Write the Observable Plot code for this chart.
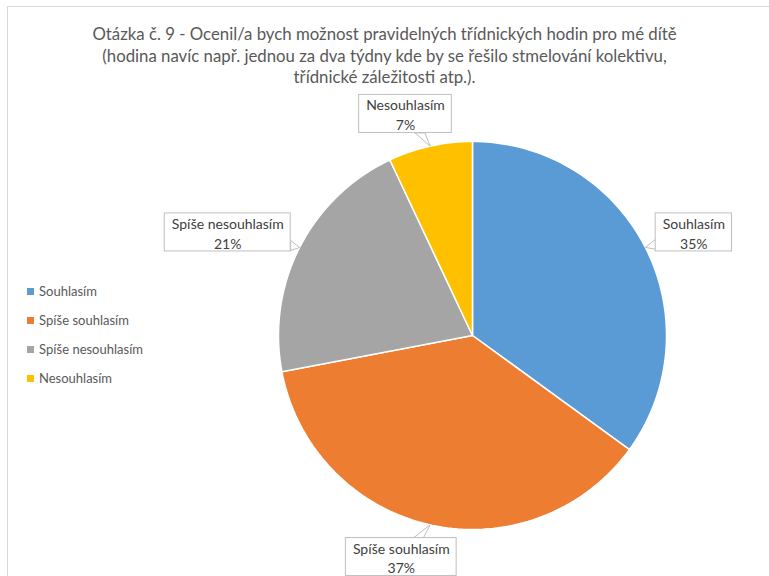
<!DOCTYPE html>
<html>
<head>
<meta charset="utf-8">
<script src="https://cdn.jsdelivr.net/npm/d3@7"></script>
<script src="https://cdn.jsdelivr.net/npm/@observablehq/plot@0.6"></script>
<style>
  html, body { margin: 0; padding: 0; background: #fff; overflow: hidden; width: 769px; height: 576px; }
  #wrap { position: relative; width: 769px; height: 576px; }
  #border { position: absolute; left: 7px; top: 6px; width: 800px; height: 620px; border: 1px solid #d9d9d9; box-sizing: border-box; pointer-events: none; }
  #title { position: absolute; left: 0; top: 23px; width: 769px; text-align: center; font-family: Lato, sans-serif; font-size: 16.8px; line-height: 21.5px; color: #595959; }
  #legend { position: absolute; left: 27px; top: 276.5px; font-family: Lato, sans-serif; font-size: 13px; color: #595959; }
  #legend .row { height: 29px; display: flex; align-items: center; }
  #legend .sw { width: 7px; height: 7px; margin-right: 5px; }
  #chart { position: absolute; left: 0; top: 0; }
</style>
</head>
<body>
<div id="wrap">
  <div id="chart"></div>
  <div id="title"></div>
  <div id="legend"></div>
  <div id="border"></div>
</div>
<script>
// ---- data ----
const categories = ["Souhlasím", "Spíše souhlasím", "Spíše nesouhlasím", "Nesouhlasím"];
const percents = [35, 37, 21, 7];
const colors = ["#5B9BD5", "#ED7D31", "#A5A5A5", "#FFC000"];
const titleLines = [
  "Otázka č. 9 - Ocenil/a bych možnost pravidelných třídnických hodin pro mé dítě",
  "(hodina navíc např. jednou za dva týdny kde by se řešilo stmelování kolektivu,",
  "třídnické záležitosti atp.)."
];

// ---- layout ----
const W = 769, H = 576;
const ml = 278, mr = 103, mt = 141, mb = 47;
const R = (W - ml - mr) / 2; // pixels per unit
const labelFont = 14;
const fontFamily = "Lato";

// title & legend
document.getElementById("title").innerHTML = titleLines.map(t => `<div>${t}</div>`).join("");
document.getElementById("legend").innerHTML = categories.map((c, i) =>
  `<div class="row"><div class="sw" style="background:${colors[i]}"></div><div>${c}</div></div>`).join("");

// pie geometry from data
const data = categories.map((c, i) => ({key: c, value: percents[i]}));
const arcs = d3.pie().sort(null).value(d => d.value).startAngle(0).endAngle(2 * Math.PI)(data);
const slicePts = [];
for (const a of arcs) {
  const n = Math.max(4, Math.ceil((a.endAngle - a.startAngle) / (2 * Math.PI) * 240));
  slicePts.push({key: a.data.key, x: 0, y: 0});
  for (let i = 0; i <= n; i++) {
    const t = a.startAngle + (a.endAngle - a.startAngle) * i / n;
    slicePts.push({key: a.data.key, x: Math.sin(t), y: Math.cos(t)});
  }
  slicePts.push({key: a.data.key, x: 0, y: 0});
}

// label boxes
const ctx = document.createElement("canvas").getContext("2d");
ctx.font = `${labelFont}px ${fontFamily}`;
const gap = 14 / R, hh = 19 / R, baseHalf = 5 / R;
const labels = arcs.map(a => {
  const th = (a.startAngle + a.endAngle) / 2;
  const s = Math.sin(th), c = Math.cos(th);
  const tw = Math.max(ctx.measureText(a.data.key).width, ctx.measureText(a.data.value + "%").width);
  const hw = (tw + 14) / 2 / R;
  const cx = (1 + gap) * s + hw * Math.sign(s) * Math.sqrt(Math.abs(s));
  const cy = (1 + gap) * c + hh * c;
  return {key: a.data.key, pct: a.data.value, th, cx, cy, hw, s, c};
});
// callout pointers
const pointerPts = [];
for (const L of labels) {
  const tx = 1.0 * L.s, ty = 1.0 * L.c;
  const dx = tx - L.cx, dy = ty - L.cy;
  const tX = Math.abs(dx) > 1e-9 ? L.hw / Math.abs(dx) : Infinity;
  const tY = Math.abs(dy) > 1e-9 ? hh / Math.abs(dy) : Infinity;
  const t = Math.min(tX, tY);
  const ex = L.cx + dx * t, ey = L.cy + dy * t;
  let p1, p2;
  if (tX < tY) { p1 = [ex, ey - baseHalf]; p2 = [ex, ey + baseHalf]; }
  else { p1 = [ex - baseHalf, ey]; p2 = [ex + baseHalf, ey]; }
  pointerPts.push({key: L.key, x: p1[0], y: p1[1]}, {key: L.key, x: tx, y: ty}, {key: L.key, x: p2[0], y: p2[1]}, {key: L.key, x: p1[0], y: p1[1]});
}

const chart = Plot.plot({
  width: W, height: H,
  marginLeft: ml, marginRight: mr, marginTop: mt, marginBottom: mb,
  style: {background: "transparent", overflow: "visible", fontFamily: fontFamily},
  x: {domain: [-1, 1], axis: null},
  y: {domain: [-1, 1], axis: null},
  color: {domain: categories, range: colors},
  marks: [
    Plot.line(slicePts, {x: "x", y: "y", z: "key", fill: "key", stroke: "white", strokeWidth: 1.5, curve: "linear", strokeLinejoin: "round"}),
    Plot.line(pointerPts, {x: "x", y: "y", z: "key", fill: "white", stroke: "#bfbfbf", strokeWidth: 1, curve: "linear"}),
    Plot.rect(labels, {x1: d => d.cx - d.hw, x2: d => d.cx + d.hw, y1: d => d.cy - hh, y2: d => d.cy + hh, fill: "white", stroke: "#bfbfbf", strokeWidth: 1}),
    Plot.text(labels, {x: "cx", y: "cy", text: d => `${d.key}\n${d.pct}%`, fontSize: labelFont, lineHeight: 1.4, fill: "#404040", fontFamily: fontFamily})
  ]
});
document.getElementById("chart").appendChild(chart);
</script>
</body>
</html>
